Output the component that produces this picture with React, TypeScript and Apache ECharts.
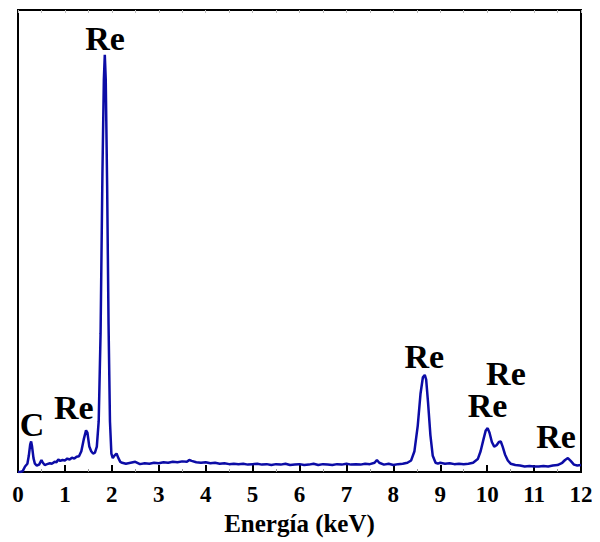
import React, { useEffect, useRef } from "react";
import * as echarts from "echarts";

// Energy (keV) of each sample point of the spectrum
const energies: number[] = [
  0.0, 0.05, 0.1, 0.15, 0.2, 0.23, 0.26, 0.28, 0.3, 0.33, 0.36, 0.4, 0.45, 0.5, 0.53, 0.57, 0.62, 0.68, 0.72, 0.78,
  0.82, 0.86, 0.9, 0.95, 1.0, 1.05, 1.1, 1.15, 1.2, 1.25, 1.3, 1.35, 1.4, 1.45, 1.48, 1.52, 1.56, 1.6, 1.64, 1.68,
  1.72, 1.76, 1.8, 1.83, 1.85, 1.87, 1.9, 1.93, 1.96, 1.99, 2.02, 2.06, 2.1, 2.14, 2.18, 2.22, 2.3, 2.4, 2.5, 2.6,
  2.7, 2.8, 2.9, 3.0, 3.1, 3.2, 3.3, 3.4, 3.5, 3.6, 3.65, 3.7, 3.8, 3.9, 4.0, 4.1, 4.2, 4.3, 4.4, 4.5,
  4.6, 4.7, 4.8, 4.9, 5.0, 5.1, 5.2, 5.3, 5.4, 5.5, 5.6, 5.7, 5.8, 5.9, 6.0, 6.1, 6.2, 6.3, 6.4, 6.5,
  6.6, 6.7, 6.8, 6.9, 7.0, 7.1, 7.2, 7.3, 7.4, 7.5, 7.6, 7.65, 7.7, 7.8, 7.9, 8.0, 8.1, 8.2, 8.3, 8.38,
  8.45, 8.52, 8.58, 8.63, 8.67, 8.7, 8.74, 8.79, 8.84, 8.9, 8.95, 9.0, 9.1, 9.2, 9.3, 9.4, 9.5, 9.6, 9.7, 9.8,
  9.86, 9.92, 9.97, 10.01, 10.05, 10.1, 10.15, 10.2, 10.25, 10.29, 10.33, 10.38, 10.44, 10.5, 10.6, 10.7, 10.8, 10.9, 11.0, 11.1,
  11.2, 11.3, 11.4, 11.5, 11.6, 11.66, 11.72, 11.78, 11.85, 11.92, 12.0,
];

// Counts (arbitrary units) at each energy
const counts: number[] = [
  0, 0, 2, 12, 18, 35, 60, 66, 55, 30, 18, 14, 16, 26, 20, 15, 17, 19, 18, 22,
  21, 27, 24, 26, 25, 29, 27, 31, 29, 33, 34, 45, 70, 90, 85, 55, 45, 40, 42, 55,
  110, 300, 650, 850, 903, 850, 620, 320, 110, 40, 30, 36, 40, 30, 22, 20, 18, 20, 22, 17,
  19, 18, 20, 19, 21, 20, 22, 21, 23, 22, 26, 24, 21, 20, 21, 19, 20, 18, 19, 17,
  18, 17, 18, 16, 17, 18, 16, 17, 15, 17, 16, 18, 15, 16, 17, 15, 16, 18, 15, 17,
  16, 15, 17, 16, 18, 16, 17, 16, 18, 17, 20, 26, 20, 16, 18, 15, 17, 18, 20, 25,
  45, 100, 170, 205, 210, 200, 150, 80, 35, 20, 18, 20, 18, 19, 17, 18, 17, 18, 20, 28,
  45, 70, 90, 95, 85, 65, 55, 58, 65, 66, 55, 38, 25, 18, 15, 14, 12, 13, 12, 12,
  13, 12, 14, 15, 20, 26, 30, 24, 16, 14, 15,
];

// Peak annotations
const labelTexts: string[] = ["C", "Re", "Re", "Re", "Re", "Re", "Re"];
const labelEnergies: number[] = [0.3, 1.19, 1.854, 8.66, 10.01, 10.4, 11.47];
const labelCounts: number[] = [103, 140, 938, 250, 144, 213, 77];

const xTicks: number[] = [0, 1, 2, 3, 4, 5, 6, 7, 8, 9, 10, 11, 12];

export default function App() {
  const ref = useRef<HTMLDivElement>(null);

  useEffect(() => {
    document.body.style.margin = "0";
    if (!ref.current) return;
    const chart = echarts.init(ref.current, undefined, { renderer: "svg" });
    const serif = "'Times New Roman', 'Liberation Serif', serif";
    const line = energies.map((e, i) => [e, counts[i]]);
    const labels = labelTexts.map((t, i) => ({ value: [labelEnergies[i], labelCounts[i]], name: t }));
    chart.setOption({
      animation: false,
      backgroundColor: "#fff",
      grid: {
        left: 18,
        right: 19,
        top: 10,
        bottom: 70,
        show: true,
        borderColor: "#000",
        borderWidth: 2,
      },
      xAxis: [
        {
          type: "value",
          min: xTicks[0],
          max: xTicks[xTicks.length - 1],
          interval: 1,
          position: "bottom",
          axisLine: { show: true, lineStyle: { color: "#000", width: 2 } },
          axisTick: { show: true, inside: true, length: 7, lineStyle: { color: "#000", width: 2 } },
          minorTick: { show: true, splitNumber: 2, length: 3, lineStyle: { color: "#999", width: 1 } },
          splitLine: { show: false },
          axisLabel: {
            color: "#000",
            fontFamily: serif,
            fontWeight: "bold",
            fontSize: 23,
            margin: 11,
          },
          name: "Energía (keV)",
          nameLocation: "middle",
          nameGap: 39,
          nameTextStyle: { color: "#000", fontFamily: serif, fontWeight: "bold", fontSize: 25 },
        },
        {
          type: "value",
          min: 0,
          max: 12,
          interval: 0.5,
          position: "top",
          axisLine: { show: false },
          axisTick: { show: true, inside: true, length: 3, lineStyle: { color: "#bbb", width: 1 } },
          axisLabel: { show: false },
          splitLine: { show: false },
        },
      ],
      yAxis: {
        type: "value",
        min: 0,
        max: 1000,
        axisLine: { show: false },
        axisTick: { show: false },
        axisLabel: { show: false },
        splitLine: { show: false },
      },
      series: [
        {
          type: "line",
          data: line,
          showSymbol: false,
          symbol: "none",
          lineStyle: { color: "#0c0ca6", width: 2.5 },
          z: 3,
        },
        {
          type: "scatter",
          data: labels,
          symbolSize: 0,
          silent: true,
          itemStyle: { color: "#000", opacity: 1 },
          label: {
            show: true,
            position: "inside",
            formatter: (p: any) => p.name,
            color: "#000",
            opacity: 1,
            textBorderWidth: 0,
            textShadowBlur: 0,
            fontFamily: serif,
            fontWeight: "bold",
            fontSize: 34,
          },
          z: 4,
        },
      ],
    });
    return () => chart.dispose();
  }, []);

  return <div ref={ref} style={{ width: 600, height: 542 }} />;
}
